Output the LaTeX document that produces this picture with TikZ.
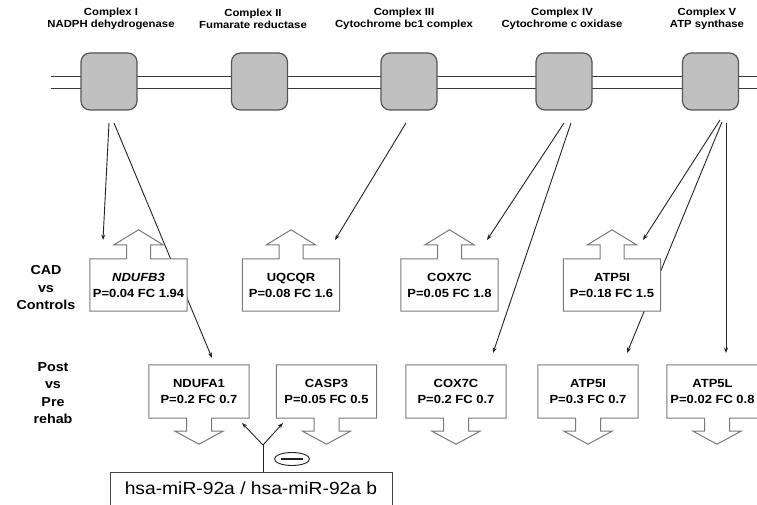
\documentclass[tikz,border=0pt]{standalone}
\usepackage{fontspec}
\setmainfont{Liberation Sans}[FakeStretch=1.1]
\usetikzlibrary{arrows.meta,shapes.geometric}
\pgfdeclarelayer{back}\pgfdeclarelayer{mid}\pgfsetlayers{back,mid,main}
\definecolor{ink}{HTML}{222222}
\definecolor{cplxfill}{HTML}{C0C0C0}
\definecolor{cplxline}{HTML}{555555}
\definecolor{boxline}{HTML}{7A7A7A}
\newcommand{\UpOutline}[1]{%
 \path[geneoutline] (#1.south west) -- (#1.north west) -- ([xshift=-12pt]#1.north) -- ([xshift=-12pt,yshift=14pt]#1.north) -- ([xshift=-24.5pt,yshift=14pt]#1.north) -- ([yshift=29pt]#1.north) -- ([xshift=24.5pt,yshift=14pt]#1.north) -- ([xshift=12pt,yshift=14pt]#1.north) -- ([xshift=12pt]#1.north) -- (#1.north east) -- (#1.south east) -- cycle;}
\newcommand{\DownOutline}[1]{%
 \path[geneoutline] (#1.north west) -- (#1.south west) -- ([xshift=-12.5pt]#1.south) -- ([xshift=-12.5pt,yshift=-13pt]#1.south) -- ([xshift=-24pt,yshift=-13pt]#1.south) -- ([yshift=-26pt]#1.south) -- ([xshift=24pt,yshift=-13pt]#1.south) -- ([xshift=12.5pt,yshift=-13pt]#1.south) -- ([xshift=12.5pt]#1.south) -- (#1.south east) -- (#1.north east) -- cycle;}
\begin{document}
\begin{tikzpicture}[x=1pt,y=-1pt,
 complexbox/.style={draw=cplxline,fill=cplxfill,line width=1.2pt,rounded corners=9pt,minimum width=56pt,minimum height=57pt,inner sep=0pt},
 titletext/.style={font=\fontsize{10.3}{12.5}\selectfont\bfseries,align=center,inner sep=0pt},
 sidetext/.style={font=\fontsize{13}{17.5}\selectfont\bfseries,align=center,inner sep=0pt},
 genebox/.style={font=\fontsize{11.8}{16}\selectfont\bfseries,align=center,inner sep=0pt},
 upgene/.style={genebox,minimum width=97pt,minimum height=52pt},
 downgene/.style={genebox,minimum width=100pt,minimum height=53pt},
 geneoutline/.style={draw=boxline,fill=white,line width=1pt},
 membrane/.style={draw=ink!90,line width=1pt},
 link/.style={draw=ink,line width=0.9pt,-{Stealth[length=5.5pt,width=4pt]}},
]
\useasboundingbox (0,0) rectangle (757,505);

% complexes
\node[complexbox] (c1) at (109,81.5) {};
\node[complexbox] (c2) at (259.5,81.5) {};
\node[complexbox] (c3) at (409,81.5) {};
\node[complexbox] (c4) at (564,81.5) {};
\node[complexbox] (c5) at (710.5,81.5) {};

% titles
\node[titletext] (t1) at (111,19) {Complex I\\NADPH dehydrogenase};
\node[titletext] (t2) at (253,19) {Complex II\\Fumarate reductase};
\node[titletext] (t3) at (404,19) {Complex III\\Cytochrome bc1 complex};
\node[titletext] (t4) at (562,19) {Complex IV\\Cytochrome c oxidase};
\node[titletext] (t5) at (707,19) {Complex V\\ATP synthase};

% side labels
\node[sidetext] (cad) at (46,288) {CAD\\vs\\Controls};
\node[sidetext] (post) at (53,393) {Post\\vs\\Pre\\rehab};

% gene boxes, CAD vs controls
\node[upgene] (ndufb3) at (138.5,285) {\textit{NDUFB3}\\P=0.04 FC 1.94};
\node[upgene] (uqcqr) at (291,285) {UQCQR\\P=0.08 FC 1.6};
\node[upgene] (coxa) at (449.5,285) {COX7C\\P=0.05 FC 1.8};
\node[upgene] (atpa) at (612,285) {ATP5I\\P=0.18 FC 1.5};

% gene boxes, post vs pre rehab
\node[downgene] (ndufa1) at (199,391.5) {NDUFA1\\P=0.2 FC 0.7};
\node[downgene] (casp3) at (326.5,391.5) {CASP3\\P=0.05 FC 0.5};
\node[downgene] (coxb) at (456,391.5) {COX7C\\P=0.2 FC 0.7};
\node[downgene] (atpb) at (588,391.5) {ATP5I\\P=0.3 FC 0.7};
\node[downgene] (atpl) at (717,391.5) {};
\node[genebox] (atpltext) at (712.5,391.5) {ATP5L\\P=0.02 FC 0.8};

% microRNA box and inhibition sign
\node[draw=ink!85,line width=1pt,anchor=north,minimum width=282pt,inner xsep=0pt,inner ysep=9pt,text depth=20pt,
      font=\fontsize{17.5}{20}\selectfont] (hsa) at (251,472) {hsa-miR-92a / hsa-miR-92a b};
\node[ellipse,draw=ink,line width=0.9pt,minimum width=35pt,minimum height=13pt,inner sep=0pt] (minus) at (292,459)
      {\color{ink}\rule{22pt}{2.5pt}};

% connector end points
\coordinate (s1a) at (109,123); \coordinate (s1b) at (114,123);
\coordinate (s3) at (406,123);
\coordinate (s4a) at (564,123); \coordinate (s4b) at (571,123);
\coordinate (s5a) at (720,120); \coordinate (s5b) at (722,122); \coordinate (s5c) at (726,123);
\coordinate (e1a) at (103,240); \coordinate (e1b) at (212,358);
\coordinate (e3) at (335,240);
\coordinate (e4a) at (487,240); \coordinate (e4b) at (493,353);
\coordinate (e5a) at (643,240); \coordinate (e5b) at (627,353); \coordinate (e5c) at (726,353);
\coordinate (yj) at (263,445);
\coordinate (ya) at (242,423); \coordinate (yb) at (283,423);

\begin{pgfonlayer}{back}
 \draw[membrane] (51,77) -- (757,77);
 \draw[membrane] (51,89) -- (757,89);
 \draw[link] (s1a) -- (e1a);
 \draw[link] (s1b) -- (e1b);
 \draw[link] (s3) -- (e3);
 \draw[link] (s4a) -- (e4a);
 \draw[link] (s4b) -- (e4b);
 \draw[link] (s5a) -- (e5a);
 \draw[link] (s5b) -- (e5b);
 \draw[link] (s5c) -- (e5c);
 \draw[draw=ink,line width=0.9pt] (yj |- hsa.north) -- (yj);
 \draw[link] (yj) -- (ya);
 \draw[link] (yj) -- (yb);
\end{pgfonlayer}

\begin{pgfonlayer}{mid}
 \UpOutline{ndufb3}
 \UpOutline{uqcqr}
 \UpOutline{coxa}
 \UpOutline{atpa}
 \DownOutline{ndufa1}
 \DownOutline{casp3}
 \DownOutline{coxb}
 \DownOutline{atpb}
 \DownOutline{atpl}
\end{pgfonlayer}
\end{tikzpicture}
\end{document}
